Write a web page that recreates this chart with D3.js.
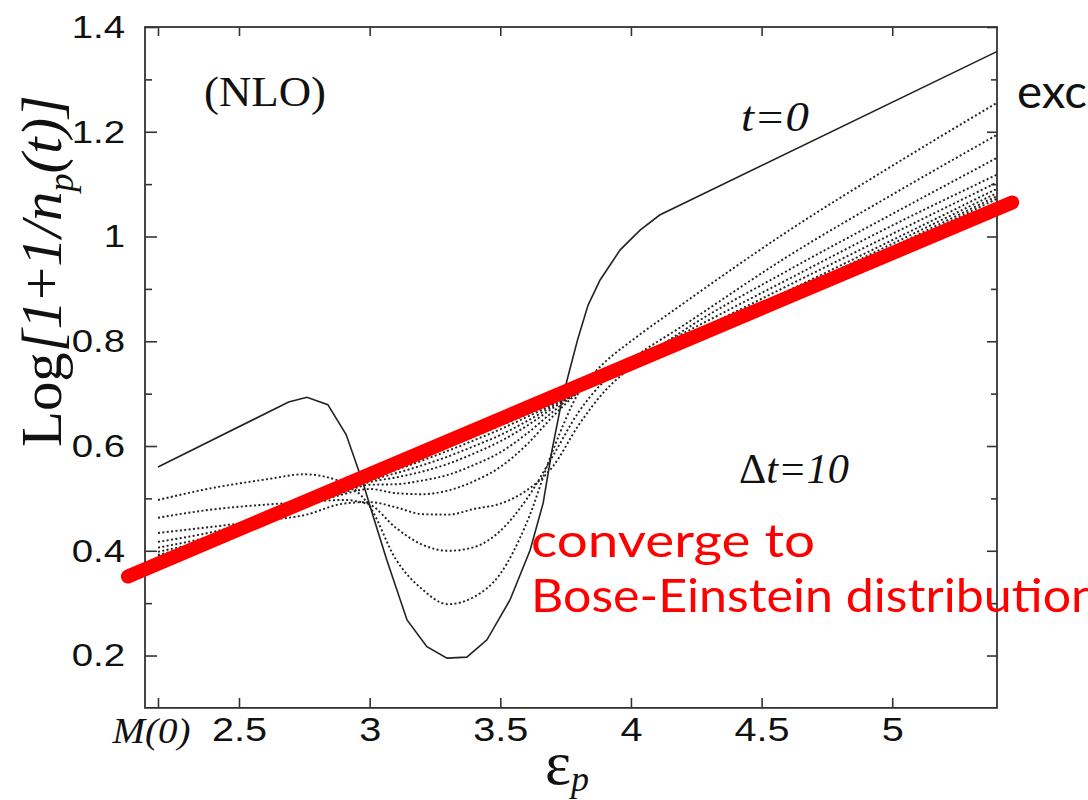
<!DOCTYPE html>
<html><head><meta charset="utf-8">
<script src="https://cdn.jsdelivr.net/npm/d3@7"></script>
<style>body{margin:0;background:#fff;overflow:hidden} svg{display:block}</style>
</head><body>
<svg id="c" width="1088" height="800"></svg>
<script>
// ---------- data ----------
const t0Eps  = [2.19, 2.69, 2.76, 2.84, 2.91, 2.975, 3.014, 3.066, 3.143, 3.219, 3.296, 3.372, 3.449, 3.537, 3.614, 3.664, 3.698, 3.736, 3.767, 3.797, 3.836, 3.882, 3.958, 4.035, 4.11, 5.40];
const t0Vals = [0.560, 0.684, 0.693, 0.679, 0.622, 0.529, 0.465, 0.382, 0.268, 0.217, 0.195, 0.197, 0.230, 0.306, 0.401, 0.491, 0.592, 0.688, 0.748, 0.805, 0.869, 0.917, 0.974, 1.012, 1.041, 1.353];

const eps = [2.19, 2.4, 2.6, 2.75, 2.9, 3.0, 3.1, 3.2, 3.3, 3.4, 3.5, 3.6, 3.7, 3.8, 3.9, 4.0, 4.2, 4.6, 5.0, 5.4];
const dot1 = [0.497, 0.520, 0.536, 0.546, 0.530, 0.485, 0.384, 0.327, 0.298, 0.312, 0.356, 0.452, 0.590, 0.702, 0.760, 0.800, 0.872, 1.010, 1.135, 1.255];
const dot2 = [0.463, 0.479, 0.488, 0.493, 0.497, 0.488, 0.444, 0.412, 0.400, 0.407, 0.438, 0.498, 0.580, 0.665, 0.725, 0.765, 0.830, 0.962, 1.080, 1.194];
const dot3 = [0.434, 0.446, 0.458, 0.468, 0.490, 0.493, 0.483, 0.470, 0.469, 0.480, 0.490, 0.515, 0.560, 0.640, 0.705, 0.750, 0.820, 0.935, 1.043, 1.150];
const dot4 = [0.417, 0.436, 0.462, 0.485, 0.508, 0.518, 0.510, 0.508, 0.515, 0.533, 0.560, 0.602, 0.656, 0.703, 0.736, 0.763, 0.815, 0.918, 1.021, 1.118];
const dot5 = [0.406, 0.428, 0.458, 0.484, 0.511, 0.526, 0.527, 0.534, 0.545, 0.564, 0.588, 0.623, 0.665, 0.704, 0.732, 0.758, 0.807, 0.906, 1.005, 1.103];
const dot6 = [0.398, 0.423, 0.456, 0.484, 0.513, 0.531, 0.540, 0.551, 0.566, 0.586, 0.609, 0.638, 0.672, 0.704, 0.730, 0.754, 0.802, 0.896, 0.993, 1.091];
const dot7 = [0.392, 0.420, 0.455, 0.485, 0.515, 0.534, 0.548, 0.563, 0.580, 0.600, 0.621, 0.647, 0.676, 0.704, 0.729, 0.752, 0.798, 0.891, 0.986, 1.083];
const dot8 = [0.389, 0.418, 0.454, 0.485, 0.516, 0.536, 0.554, 0.572, 0.591, 0.611, 0.632, 0.655, 0.679, 0.704, 0.727, 0.750, 0.795, 0.886, 0.980, 1.077];
const dot9 = [0.386, 0.417, 0.453, 0.485, 0.517, 0.538, 0.558, 0.578, 0.598, 0.618, 0.639, 0.660, 0.682, 0.704, 0.727, 0.749, 0.793, 0.883, 0.976, 1.072];
const dottedSeries = [dot1, dot2, dot3, dot4, dot5, dot6, dot7, dot8, dot9];

const redEps  = [2.075, 5.459];
const redVals = [0.351, 1.065];

const xTicks = [2.19, 2.5, 3, 3.5, 4, 4.5, 5];
const xTickLabels = ["M(0)", "2.5", "3", "3.5", "4", "4.5", "5"];
const yTicks = [0.2, 0.4, 0.6, 0.8, 1.0, 1.2, 1.4];
const yTickLabels = ["0.2", "0.4", "0.6", "0.8", "1", "1.2", "1.4"];
const yMinorTicks = [0.3, 0.5, 0.7, 0.9, 1.1, 1.3];

// ---------- chart ----------
const svg = d3.select("#c");
const x = d3.scaleLinear().domain([2.1403, 5.4009]).range([145, 997]);
const y = d3.scaleLinear().domain([0.1, 1.4]).range([707.9, 27]);
const SANS = "'Liberation Sans', Arial, Helvetica, sans-serif";
const SERIF = "'Liberation Serif', 'Times New Roman', serif";
const ANNO = "Lato, 'DejaVu Sans', sans-serif";

function styleAxis(g){
  g.select(".domain").remove();
  g.selectAll(".tick line").attr("stroke","#333").attr("stroke-width",1.6);
}
function stretch(sel, f){
  sel.each(function(){
    const w = this.getComputedTextLength();
    d3.select(this).attr("textLength", w*f).attr("lengthAdjust","spacingAndGlyphs");
  });
}

// bottom axis
const gx = svg.append("g").attr("transform",`translate(0,${y(0.1)})`)
  .call(d3.axisBottom(x).tickValues(xTicks).tickSizeInner(-10).tickSizeOuter(0).tickPadding(10)
        .tickFormat((d,i)=>xTickLabels[i]));
styleAxis(gx);
gx.selectAll(".tick text").attr("font-family",SANS).attr("font-size",33).attr("fill","#111");
gx.selectAll(".tick text").filter(d=>d!==2.19).call(stretch,1.2);
gx.selectAll(".tick text").filter(d=>d===2.19)
  .attr("font-family",SERIF).attr("font-style","italic").attr("font-size",36).attr("x",-7)
  .attr("textLength",78).attr("lengthAdjust","spacingAndGlyphs");

// top axis
const gt = svg.append("g").attr("transform",`translate(0,${y(1.4)})`)
  .call(d3.axisTop(x).tickValues(xTicks).tickSizeInner(-9).tickSizeOuter(0).tickFormat(""));
styleAxis(gt);

// left axis
const gy = svg.append("g").attr("transform",`translate(${x.range()[0]},0)`)
  .call(d3.axisLeft(y).tickValues(yTicks).tickSizeInner(-12).tickSizeOuter(0).tickPadding(20)
        .tickFormat((d,i)=>yTickLabels[i]));
styleAxis(gy);
gy.selectAll(".tick text").attr("font-family",SANS).attr("font-size",32).attr("fill","#111").call(stretch,1.2);
const gym = svg.append("g").attr("transform",`translate(${x.range()[0]},0)`)
  .call(d3.axisLeft(y).tickValues(yMinorTicks).tickSizeInner(-7).tickSizeOuter(0).tickFormat(""));
styleAxis(gym);

// right axis
const gr = svg.append("g").attr("transform",`translate(${x.range()[1]},0)`)
  .call(d3.axisRight(y).tickValues(yTicks).tickSizeInner(-10).tickSizeOuter(0).tickFormat(""));
styleAxis(gr);
const grm = svg.append("g").attr("transform",`translate(${x.range()[1]},0)`)
  .call(d3.axisRight(y).tickValues(yMinorTicks).tickSizeInner(-6).tickSizeOuter(0).tickFormat(""));
styleAxis(grm);

// frame
svg.append("rect").attr("x",x.range()[0]).attr("y",y(1.4))
  .attr("width",x.range()[1]-x.range()[0]).attr("height",y(0.1)-y(1.4))
  .attr("fill","none").attr("stroke","#333").attr("stroke-width",1.8);

// curves
const lineSmooth = d3.line().x(d=>x(d[0])).y(d=>y(d[1])).curve(d3.curveMonotoneX);
const lineLin = d3.line().x(d=>x(d[0])).y(d=>y(d[1]));

dottedSeries.forEach(s=>{
  svg.append("path").datum(eps.map((e,i)=>[e,s[i]])).attr("d",lineSmooth)
    .attr("fill","none").attr("stroke","#222").attr("stroke-width",1.9)
    .attr("stroke-dasharray","2,2.4");
});
svg.append("path").datum(t0Eps.map((e,i)=>[e,t0Vals[i]])).attr("d",lineLin)
  .attr("fill","none").attr("stroke","#222").attr("stroke-width",1.6);

// red line
svg.append("path").datum(redEps.map((e,i)=>[e,redVals[i]])).attr("d",lineLin)
  .attr("fill","none").attr("stroke","#ff0000").attr("stroke-width",14).attr("stroke-linecap","round");

// ---------- texts ----------
// y-axis title
const yt = svg.append("text").attr("transform","translate(61,271) rotate(-90)")
  .attr("text-anchor","middle").attr("font-family",SERIF).attr("font-size",58).attr("fill","#111");
yt.append("tspan").text("Log");
yt.append("tspan").attr("font-style","italic").text("[1");
yt.append("tspan").text("+");
yt.append("tspan").attr("font-style","italic").text("1/n");
yt.append("tspan").attr("font-style","italic").attr("font-size",36).attr("dy",12).text("p");
yt.append("tspan").attr("font-style","italic").attr("dy",-12).text("(t)]");
yt.attr("textLength",352).attr("lengthAdjust","spacingAndGlyphs");

// x-axis title
const xt = svg.append("text").attr("x",545).attr("y",784).attr("font-family",SERIF).attr("fill","#111");
xt.append("tspan").attr("font-size",62).text("ε");
xt.append("tspan").attr("font-style","italic").attr("font-size",36).attr("dy",7).text("p");

svg.append("text").attr("x",204).attr("y",106).attr("font-family",SERIF).attr("font-size",42)
  .attr("fill","#111").attr("textLength",122).attr("lengthAdjust","spacingAndGlyphs").text("(NLO)");

svg.append("text").attr("x",741).attr("y",131).attr("font-family",SERIF).attr("font-style","italic")
  .attr("font-size",42).attr("fill","#111").attr("textLength",68).attr("lengthAdjust","spacingAndGlyphs").text("t=0");

const dt = svg.append("text").attr("x",739).attr("y",483).attr("font-family",SERIF)
  .attr("font-size",42).attr("fill","#111");
dt.append("tspan").text("Δ");
dt.append("tspan").attr("font-style","italic").text("t=10");
dt.attr("textLength",110).attr("lengthAdjust","spacingAndGlyphs");

svg.append("text").attr("x",531).attr("y",557).attr("font-family",ANNO)
  .attr("font-size",46).attr("fill","#ff0000").attr("textLength",284).attr("lengthAdjust","spacingAndGlyphs")
  .text("converge to");
svg.append("text").attr("x",531).attr("y",612).attr("font-family",ANNO)
  .attr("font-size",46).attr("fill","#ff0000").attr("textLength",568).attr("lengthAdjust","spacingAndGlyphs")
  .text("Bose-Einstein distribution");
svg.append("text").attr("x",1017).attr("y",108).attr("font-family",ANNO)
  .attr("font-size",46).attr("fill","#111").attr("textLength",70).attr("lengthAdjust","spacingAndGlyphs").text("exc");
</script>
</body></html>
